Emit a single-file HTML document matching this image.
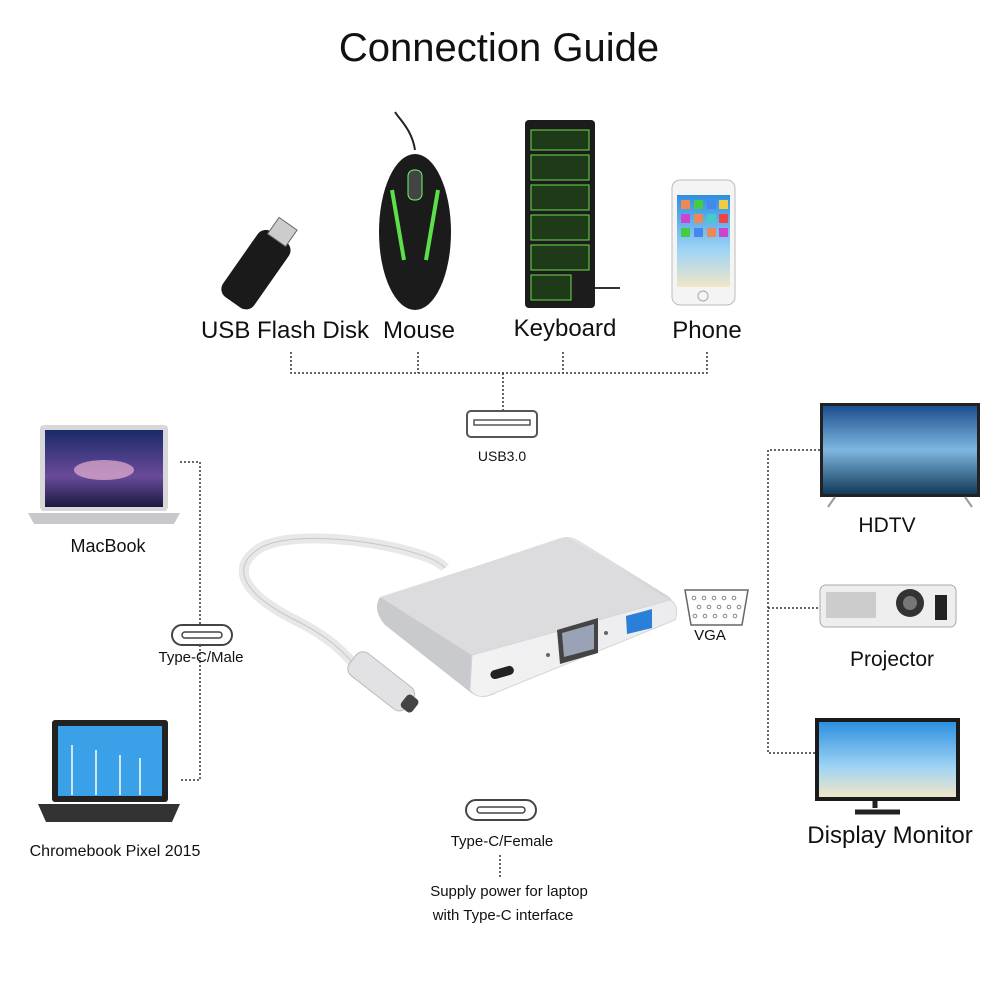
<!DOCTYPE html>
<html><head><meta charset="utf-8"><style>
html,body{margin:0;padding:0;background:#fff}
#c{position:relative;width:1000px;height:1000px;overflow:hidden;font-family:"Liberation Sans","DejaVu Sans",sans-serif;color:#111}
.t{position:absolute;white-space:nowrap;transform:translateX(-50%)}
</style></head><body><div id="c">
<svg width="1000" height="1000" style="position:absolute;left:0;top:0">
<defs>
<linearGradient id="al" x1="0" y1="0" x2="0" y2="1"><stop offset="0" stop-color="#e4e4e6"/><stop offset="1" stop-color="#cfd0d3"/></linearGradient>
<linearGradient id="fr" x1="0" y1="0" x2="1" y2="0"><stop offset="0" stop-color="#f2f2f3"/><stop offset="1" stop-color="#ececee"/></linearGradient>
<linearGradient id="scr" x1="0" y1="0" x2="0" y2="1"><stop offset="0" stop-color="#1a2a6a"/><stop offset="0.6" stop-color="#6a4a9a"/><stop offset="1" stop-color="#1a1a40"/></linearGradient>
<linearGradient id="tv" x1="0" y1="0" x2="0" y2="1"><stop offset="0" stop-color="#1c4f8f"/><stop offset="0.5" stop-color="#7fb6e0"/><stop offset="1" stop-color="#123a5a"/></linearGradient>
<linearGradient id="sky" x1="0" y1="0" x2="0" y2="1"><stop offset="0" stop-color="#2d8fe0"/><stop offset="0.6" stop-color="#9fd4f4"/><stop offset="1" stop-color="#f0e6c8"/></linearGradient>
</defs>
<g fill="none" stroke="#333" stroke-width="1.5" stroke-dasharray="2 2">
<path d="M291 352V373H707V352M418 352V373M563 352V373M503 373V410"/>
<path d="M180 462H200V625M200 645V780H180"/>
<path d="M820 450H768V753H820M768 608H820"/>
<path d="M500 855V878"/>
</g>
<!-- USB stick -->
<g transform="rotate(35 258 265)"><rect x="240" y="230" width="38" height="80" rx="10" fill="#1a1a1a"/><rect x="248" y="214" width="22" height="20" fill="#ccc" stroke="#666"/></g>
<!-- mouse -->
<path d="M415 150C412 130 400 120 395 112" stroke="#222" stroke-width="2" fill="none"/>
<ellipse cx="415" cy="232" rx="36" ry="78" fill="#1b1b1b"/>
<path d="M392 190L404 260M438 190L426 260" stroke="#5ce04a" stroke-width="4"/>
<rect x="408" y="170" width="14" height="30" rx="6" fill="#444" stroke="#6f6"/>
<!-- keyboard -->
<rect x="525" y="120" width="70" height="188" rx="4" fill="#1c1c1c"/>
<g stroke="#6cdc4a" stroke-width="1" fill="#1e3a18">
<rect x="531" y="130" width="58" height="20"/><rect x="531" y="155" width="58" height="25"/><rect x="531" y="185" width="58" height="25"/><rect x="531" y="215" width="58" height="25"/><rect x="531" y="245" width="58" height="25"/><rect x="531" y="275" width="40" height="25"/>
</g>
<path d="M595 288H620" stroke="#333" stroke-width="2"/>
<!-- phone -->
<rect x="672" y="180" width="63" height="125" rx="8" fill="#f4f4f4" stroke="#bbb"/>
<rect x="677" y="195" width="53" height="92" fill="url(#sky)"/>
<g fill="#e85"><rect x="681" y="200" width="9" height="9"/><rect x="694" y="200" width="9" height="9" fill="#4c4"/><rect x="707" y="200" width="9" height="9" fill="#48e"/><rect x="719" y="200" width="9" height="9" fill="#ec4"/>
<rect x="681" y="214" width="9" height="9" fill="#c4c"/><rect x="694" y="214" width="9" height="9"/><rect x="707" y="214" width="9" height="9" fill="#4cc"/><rect x="719" y="214" width="9" height="9" fill="#e44"/>
<rect x="681" y="228" width="9" height="9" fill="#4c4"/><rect x="694" y="228" width="9" height="9" fill="#48e"/><rect x="707" y="228" width="9" height="9"/><rect x="719" y="228" width="9" height="9" fill="#c4c"/></g>
<circle cx="703" cy="296" r="5" fill="none" stroke="#aaa"/>
<!-- USB icon -->
<rect x="467" y="411" width="70" height="26" rx="4" fill="#fff" stroke="#555" stroke-width="2"/>
<path d="M474 420H530V425H474Z" fill="none" stroke="#555" stroke-width="1.5"/>
<!-- MacBook -->
<rect x="40" y="425" width="128" height="86" rx="4" fill="#d8d8d8"/>
<rect x="45" y="430" width="118" height="77" fill="url(#scr)"/>
<ellipse cx="104" cy="470" rx="30" ry="10" fill="#e8b0d0" opacity=".7"/>
<path d="M28 513H180L174 524H34Z" fill="#c8c8cc"/>
<!-- Chromebook -->
<rect x="52" y="720" width="116" height="82" rx="3" fill="#222"/>
<rect x="58" y="726" width="104" height="70" fill="#3aa0e8"/>
<g stroke="#fff" stroke-width="1.5"><path d="M72 745V795M96 750V795M120 755V795M140 758V795"/></g>
<path d="M38 804H180L172 822H46Z" fill="#333"/>
<!-- Type-C male icon -->
<rect x="172" y="625" width="60" height="20" rx="10" fill="#fff" stroke="#444" stroke-width="2"/>
<rect x="182" y="632" width="40" height="6" rx="3" fill="none" stroke="#444" stroke-width="1.5"/>
<!-- cable -->
<path d="M445 568C430 548 300 525 260 548C228 568 245 595 295 620C335 640 345 655 362 672" stroke="#e8e8e8" stroke-width="10" fill="none"/>
<path d="M445 568C430 548 300 525 260 548C228 568 245 595 295 620C335 640 345 655 362 672" stroke="#c6c6c6" stroke-width="1" fill="none"/>
<g transform="rotate(38 382 682)"><rect x="345" y="668" width="72" height="28" rx="9" fill="#e2e2e4" stroke="#bbb"/><rect x="410" y="674" width="14" height="16" rx="4" fill="#444"/></g>
<!-- adapter -->
<path d="M382 598L560 538Q570 535 578 540L668 596Q676 602 670 608L380 608Z" fill="url(#al)"/>
<path d="M380 597L567 537L670 600L472 655Z" fill="#dcdcdf"/>
<path d="M380 597Q372 610 385 625L470 692Q480 700 495 694L472 655Z" fill="#c9cacd"/>
<path d="M472 655L670 600Q680 605 675 620L490 695Q478 700 470 690Z" fill="url(#fr)" stroke="#d6d6d8"/>
<rect x="490" y="668" width="24" height="9" rx="4.5" fill="#222" transform="rotate(-16 502 672)"/>
<path d="M557 630L598 618V653L560 664Z" fill="#444"/>
<path d="M562 633L594 624V649L564 657Z" fill="#9aa3b5"/>
<path d="M626 616L652 609V628L627 634Z" fill="#2a7fd8"/>
<circle cx="548" cy="655" r="2" fill="#666"/><circle cx="606" cy="633" r="2" fill="#666"/>
<!-- VGA icon -->
<path d="M685 590H748L742 625H691Z" fill="#fff" stroke="#666" stroke-width="1.5"/>
<g fill="none" stroke="#888"><circle cx="694" cy="598" r="1.8"/><circle cx="704" cy="598" r="1.8"/><circle cx="714" cy="598" r="1.8"/><circle cx="724" cy="598" r="1.8"/><circle cx="734" cy="598" r="1.8"/><circle cx="699" cy="607" r="1.8"/><circle cx="709" cy="607" r="1.8"/><circle cx="719" cy="607" r="1.8"/><circle cx="729" cy="607" r="1.8"/><circle cx="739" cy="607" r="1.8"/><circle cx="695" cy="616" r="1.8"/><circle cx="705" cy="616" r="1.8"/><circle cx="715" cy="616" r="1.8"/><circle cx="725" cy="616" r="1.8"/><circle cx="735" cy="616" r="1.8"/></g>
<!-- HDTV -->
<rect x="820" y="403" width="160" height="94" fill="#222"/>
<rect x="823" y="406" width="154" height="88" fill="url(#tv)"/>
<path d="M835 497L828 507M965 497L972 507" stroke="#999" stroke-width="2"/>
<!-- Projector -->
<rect x="820" y="585" width="136" height="42" rx="6" fill="#eee" stroke="#aaa"/>
<rect x="826" y="592" width="50" height="26" fill="#ccc"/>
<circle cx="910" cy="603" r="14" fill="#333"/><circle cx="910" cy="603" r="7" fill="#777"/>
<rect x="935" y="595" width="12" height="25" fill="#222"/>
<!-- Monitor -->
<rect x="815" y="718" width="145" height="83" fill="#1a1a1a"/>
<rect x="819" y="722" width="137" height="75" fill="url(#sky)"/>
<path d="M875 801V808M855 812H900" stroke="#222" stroke-width="5"/>
<!-- Type-C female icon -->
<rect x="466" y="800" width="70" height="20" rx="10" fill="#fff" stroke="#444" stroke-width="2"/>
<rect x="477" y="807" width="48" height="6" rx="3" fill="none" stroke="#444" stroke-width="1.5"/>
</svg>
<div class="t" style="left:499px;top:26px;font-size:40px">Connection Guide</div>
<div class="t" style="left:285px;top:317px;font-size:24px">USB Flash Disk</div>
<div class="t" style="left:419px;top:317px;font-size:24px">Mouse</div>
<div class="t" style="left:565px;top:315px;font-size:24px">Keyboard</div>
<div class="t" style="left:707px;top:317px;font-size:24px">Phone</div>
<div class="t" style="left:502px;top:448px;font-size:14px">USB3.0</div>
<div class="t" style="left:108px;top:536px;font-size:18px">MacBook</div>
<div class="t" style="left:201px;top:649px;font-size:15px">Type-C/Male</div>
<div class="t" style="left:115px;top:843px;font-size:16px">Chromebook Pixel 2015</div>
<div class="t" style="left:710px;top:627px;font-size:15px">VGA</div>
<div class="t" style="left:887px;top:514px;font-size:21px">HDTV</div>
<div class="t" style="left:892px;top:648px;font-size:21px">Projector</div>
<div class="t" style="left:890px;top:822px;font-size:24px">Display Monitor</div>
<div class="t" style="left:502px;top:833px;font-size:15px">Type-C/Female</div>
<div class="t" style="left:509px;top:883px;font-size:15px">Supply power for laptop</div>
<div class="t" style="left:503px;top:907px;font-size:15px">with Type-C interface</div>
</div></body></html>
